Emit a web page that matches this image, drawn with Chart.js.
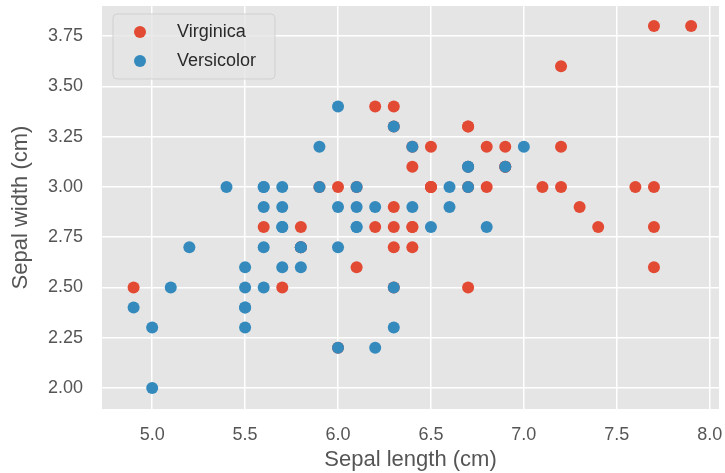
<!DOCTYPE html>
<html>
<head>
<meta charset="utf-8">
<script src="https://cdn.jsdelivr.net/npm/chart.js@4.4.0/dist/chart.umd.min.js"></script>
<style>
  html, body { margin: 0; padding: 0; background: #fff; }
  #wrap { width: 725px; height: 473px; }
</style>
</head>
<body>
<div id="wrap"><canvas id="scatter"></canvas></div>
<script>
// iris sepal measurements
var virginicaLength = [6.3,5.8,7.1,6.3,6.5,7.6,4.9,7.3,6.7,7.2,6.5,6.4,6.8,5.7,5.8,6.4,6.5,7.7,7.7,6.0,
                       6.9,5.6,7.7,6.3,6.7,7.2,6.2,6.1,6.4,7.2,7.4,7.9,6.4,6.3,6.1,7.7,6.3,6.4,6.0,6.9,
                       6.7,6.9,5.8,6.8,6.7,6.7,6.3,6.5,6.2,5.9];
var virginicaWidth  = [3.3,2.7,3.0,2.9,3.0,3.0,2.5,2.9,2.5,3.6,3.2,2.7,3.0,2.5,2.8,3.2,3.0,3.8,2.6,2.2,
                       3.2,2.8,2.8,2.7,3.3,3.2,2.8,3.0,2.8,3.0,2.8,3.8,2.8,2.8,2.6,3.0,3.4,3.1,3.0,3.1,
                       3.1,3.1,2.7,3.2,3.3,3.0,2.5,3.0,3.4,3.0];
var versicolorLength = [7.0,6.4,6.9,5.5,6.5,5.7,6.3,4.9,6.6,5.2,5.0,5.9,6.0,6.1,5.6,6.7,5.6,5.8,6.2,5.6,
                        5.9,6.1,6.3,6.1,6.4,6.6,6.8,6.7,6.0,5.7,5.5,5.5,5.8,6.0,5.4,6.0,6.7,6.3,5.6,5.5,
                        5.5,6.1,5.8,5.0,5.6,5.7,5.7,6.2,5.1,5.7];
var versicolorWidth  = [3.2,3.2,3.1,2.3,2.8,2.8,3.3,2.4,2.9,2.7,2.0,3.0,2.2,2.9,2.9,3.1,3.0,2.7,2.2,2.5,
                        3.2,2.8,2.5,2.8,2.9,3.0,2.8,3.0,2.9,2.6,2.4,2.4,2.7,2.7,3.0,3.4,3.1,2.3,3.0,2.5,
                        2.6,3.0,2.6,2.3,2.7,3.0,2.9,2.9,2.5,2.8];
var seriesNames = ["Virginica", "Versicolor"];
var xTicks = [5.0, 5.5, 6.0, 6.5, 7.0, 7.5, 8.0];
var yTicks = [2.00, 2.25, 2.50, 2.75, 3.00, 3.25, 3.50, 3.75];

function toPoints(xs, ys) {
	return xs.map(function(x, i){ return {x: x, y: ys[i]}; });
}

var FONT = "'Liberation Sans', Arial, Helvetica, sans-serif";
var RED = "#E24A33";
var BLUE = "#348ABD";

// grey panel behind the plot
var panelBg = {
	id: "panelBg",
	beforeDraw: function(chart) {
		var a = chart.chartArea, c = chart.ctx;
		c.save();
		c.fillStyle = "#E5E5E5";
		c.fillRect(a.left, a.top, a.right - a.left, a.bottom - a.top);
		c.restore();
	}
};

// matplotlib-like legend box in the upper left
var boxLegend = {
	id: "boxLegend",
	afterDatasetsDraw: function(chart) {
		var a = chart.chartArea, c = chart.ctx;
		var x0 = a.left + 11, y0 = a.top + 8, w = 162, h = 65;
		c.save();
		c.beginPath();
		c.roundRect(x0, y0, w, h, 4);
		c.fillStyle = "rgba(229,229,229,0.8)";
		c.fill();
		c.strokeStyle = "rgba(204,204,204,0.8)";
		c.lineWidth = 1;
		c.stroke();
		c.font = "18px " + FONT;
		c.textBaseline = "middle";
		chart.data.datasets.forEach(function(ds, i){
			var cy = y0 + 18 + i * 29;
			c.beginPath();
			c.arc(x0 + 27, cy, 6, 0, Math.PI * 2);
			c.fillStyle = ds.backgroundColor;
			c.fill();
			c.fillStyle = "#2a2a2a";
			c.fillText(ds.label, x0 + 64, cy);
		});
		c.restore();
	}
};

function noPad(axis) {
	axis.paddingTop = 0;
	axis.paddingBottom = 0;
	axis.paddingLeft = 0;
	axis.paddingRight = 0;
}

var ctx = document.getElementById("scatter");

var data = {
	datasets: [
		{
			label: seriesNames[0],
			data: toPoints(virginicaLength, virginicaWidth),
			backgroundColor: RED,
			borderWidth: 0,
			pointRadius: 6,
			order: 1
		},
		{
			label: seriesNames[1],
			data: toPoints(versicolorLength, versicolorWidth),
			backgroundColor: BLUE,
			borderWidth: 0,
			pointRadius: 6,
			order: 0
		}
	]
};

var options = {
	responsive: true,
	maintainAspectRatio: false,
	animation: false,
	layout: { padding: { top: 6, right: 2.5, left: 0, bottom: 0 } },
	plugins: {
		legend: { display: false },
		tooltip: { enabled: false }
	},
	scales: {
		x: {
			type: "linear",
			min: 4.73,
			max: 8.05,
			afterBuildTicks: function(axis){ axis.ticks = xTicks.map(function(v){ return {value: v}; }); },
			afterFit: function(axis){ axis.height = 64; noPad(axis); },
			ticks: {
				color: "#555555",
				font: { family: FONT, size: 18 },
				padding: 15,
				maxRotation: 0,
				callback: function(v){ return Number(v).toFixed(1); }
			},
			grid: { color: "#ffffff", lineWidth: 1.5, drawTicks: false },
			border: { display: false },
			title: {
				display: true,
				text: "Sepal length (cm)",
				color: "#555555",
				font: { family: FONT, size: 22 },
				padding: { top: 0, bottom: 0 }
			}
		},
		y: {
			type: "linear",
			min: 1.895,
			max: 3.9,
			afterBuildTicks: function(axis){ axis.ticks = yTicks.map(function(v){ return {value: v}; }); },
			afterFit: function(axis){ axis.width = 102; noPad(axis); },
			ticks: {
				color: "#555555",
				font: { family: FONT, size: 18 },
				padding: 19,
				callback: function(v){ return Number(v).toFixed(2); }
			},
			grid: { color: "#ffffff", lineWidth: 1.5, drawTicks: false },
			border: { display: false },
			title: {
				display: true,
				text: "Sepal width (cm)",
				color: "#555555",
				font: { family: FONT, size: 22 },
				padding: { top: 8, bottom: 0 }
			}
		}
	}
};

var chart = new Chart(ctx, {
	type: "scatter",
	data: data,
	options: options,
	plugins: [panelBg, boxLegend]
});
</script>
</body>
</html>
